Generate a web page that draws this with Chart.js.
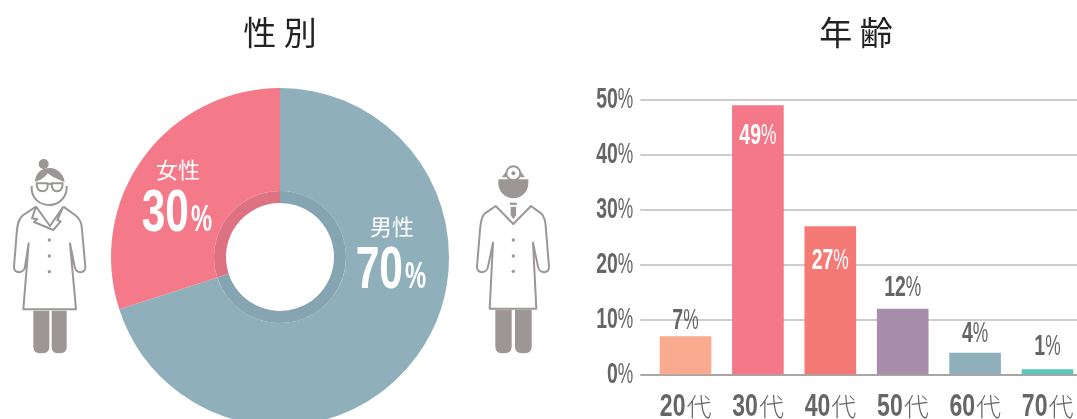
<!DOCTYPE html>
<html lang="ja">
<head>
<meta charset="utf-8">
<title>性別・年齢</title>
<script src="https://cdn.jsdelivr.net/npm/chart.js@4"></script>
<style>
html, body { margin: 0; padding: 0; width: 1077px; height: 419px; overflow: hidden; background: #fff; }
#genderChart { position: absolute; left: 0; top: 0; }
#ageChart { position: absolute; left: 580px; top: 0; }
svg { position: absolute; top: 150px; width: 100px; height: 210px; }
#woman { left: 0; }
#man { left: 465px; }
</style>
</head>
<body>
<canvas id="genderChart" width="560" height="426"></canvas>
<canvas id="ageChart" width="552" height="419"></canvas>

<svg id="woman" viewBox="0 0 300 630">
  <g fill="none" stroke="#9c9696" stroke-width="6" stroke-linejoin="round">
    <path d="M95 108C92 145 120 165 148 165C178 165 202 140 200 108"/>
    <path d="M110 100H143Q145 124 128 124Q110 124 110 100ZM155 100H188Q188 124 171 124Q155 124 155 100ZM143 103Q149 99 155 103"/>
    <path d="M108 170L70 195C55 205 52 225 50 250L42 350C40 372 72 372 75 350L86 280L70 478H228L210 280L224 350C228 372 258 372 256 350L246 240C245 215 238 205 225 195L190 170"/>
    <path d="M108 170L96 205L112 208L102 216L160 240L182 214L172 210L190 170M108 170L150 228L190 170"/>
  </g>
  <g fill="#9c9696">
    <circle cx="131" cy="42" r="15"/>
    <path d="M105 96C106 68 125 55 148 54C170 53 192 72 194 96C172 88 152 78 143 70C135 82 120 92 105 96Z"/>
    <circle cx="148" cy="270" r="5"/><circle cx="148" cy="318" r="5"/><circle cx="148" cy="365" r="5"/>
    <path d="M100 482H148V590Q148 610 124 610Q100 610 100 590ZM155 482H200V590Q200 610 177 610Q155 610 155 590Z"/>
  </g>
</svg>

<svg id="man" viewBox="0 0 300 630">
  <g fill="none" stroke="#9c9696" stroke-width="6" stroke-linejoin="round">
    <circle cx="145" cy="70" r="21"/>
    <path d="M92 168L60 190C50 198 47 215 45 240L36 350C34 372 66 372 69 350L84 278L74 476H214L204 278L219 350C222 372 254 372 252 350L243 240C242 215 238 198 228 190L198 168L145 222Z"/>
  </g>
  <g fill="#9c9696">
    <circle cx="145" cy="70" r="6"/>
    <path d="M100 88H190V100C190 125 170 145 145 145C120 145 100 125 100 100Z"/>
    <path d="M110 82L124 64L124 82ZM180 82L166 64L166 82Z"/>
    <rect x="135" y="158" width="20" height="7"/>
    <path d="M137 170H153V195L145 208L137 195Z"/>
    <circle cx="145" cy="270" r="5"/><circle cx="145" cy="318" r="5"/><circle cx="145" cy="364" r="5"/>
    <path d="M91 480H140V590Q140 610 115 610Q91 610 91 590ZM150 480H200V590Q200 610 175 610Q150 610 150 590Z"/>
  </g>
</svg>

<script>
const genderLabels = ['男性', '女性'];
const genderValues = [70, 30];
const genderColors = ['#8fb0bb', '#f47a89'];
const genderRingColors = ['#84a5b1', '#dd7382'];

const ageLabels = ['20', '30', '40', '50', '60', '70'];
const ageValues = [7, 49, 27, 12, 4, 1];
const ageColors = ['#f9aa8f', '#f47888', '#f57a75', '#a78eaa', '#8fb0ba', '#5cc8b8'];

const latinFont = '"Liberation Sans", sans-serif';
const cjkFont = '"Noto Sans CJK JP", sans-serif';
const textGray = '#666';

// 細い数字は使えるフォントがないので横方向に縮めて描く
function drawScaled(ctx, text, x, y, font, scaleX, color, align) {
    ctx.save();
    ctx.translate(x, y);
    ctx.scale(scaleX, 1);
    ctx.font = font;
    ctx.fillStyle = color;
    ctx.textAlign = align;
    ctx.textBaseline = 'alphabetic';
    ctx.fillText(text, 0, 0);
    ctx.restore();
}

// 数字は太く、%は細く描く。x は align に合わせて右端か中央
function drawPercent(ctx, value, x, y, align, color) {
    const digitFont = `bold 29px ${latinFont}`;
    const signFont = `29px ${latinFont}`;
    ctx.save();
    ctx.font = digitFont;
    const digitWidth = ctx.measureText(String(value)).width * 0.67;
    ctx.font = signFont;
    const signWidth = ctx.measureText('%').width * 0.6;
    ctx.restore();
    const left = align === 'right' ? x - digitWidth - signWidth : x - (digitWidth + signWidth) / 2;
    drawScaled(ctx, String(value), left, y, digitFont, 0.67, color, 'left');
    drawScaled(ctx, '%', left + digitWidth, y, signFont, 0.6, color, 'left');
}

const genderTextPlugin = {
    id: 'genderText',
    afterDatasetsDraw(chart) {
        const ctx = chart.ctx;
        const arc = chart.getDatasetMeta(0).data[0];
        const spots = [{ dx: 112, dy: -22 }, { dx: -102, dy: -79 }];
        genderLabels.forEach((label, i) => {
            const x = arc.x + spots[i].dx;
            const y = arc.y + spots[i].dy;
            drawScaled(ctx, label, x, y, `22px ${cjkFont}`, 1, '#fff', 'center');
            drawScaled(ctx, String(genderValues[i]), x + 11, y + 53, `bold 59px ${latinFont}`, 0.72, '#fff', 'right');
            drawScaled(ctx, '%', x + 13, y + 53, `bold 36px ${latinFont}`, 0.66, '#fff', 'left');
        });
    }
};

const ageTextPlugin = {
    id: 'ageText',
    afterDatasetsDraw(chart) {
        const ctx = chart.ctx;
        const yScale = chart.scales.y;
        // 値ラベルの棒の端からの距離(マイナスは棒の内側)
        const lifts = [8, -38, -42, 13, 11, 15];
        yScale.ticks.forEach(tick => {
            drawPercent(ctx, tick.value, chart.chartArea.left - 16, yScale.getPixelForValue(tick.value) + 8, 'right', textGray);
        });
        chart.getDatasetMeta(0).data.forEach((bar, i) => {
            drawPercent(ctx, ageValues[i], bar.x, bar.y - lifts[i], 'center', lifts[i] < 0 ? '#fff' : textGray);
            // 横軸のラベルは数字と「代」で大きさが違う
            const base = chart.chartArea.bottom + 41;
            drawScaled(ctx, ageLabels[i], bar.x, base, `bold 32px ${latinFont}`, 0.72, textGray, 'right');
            drawScaled(ctx, '代', bar.x + 1, base, `300 25px ${cjkFont}`, 1, textGray, 'left');
        });
    }
};

new Chart(document.getElementById('genderChart'), {
    type: 'doughnut',
    data: {
        labels: genderLabels,
        datasets: [
            { data: genderValues, backgroundColor: genderColors, borderWidth: 0, weight: 103 },
            { data: genderValues, backgroundColor: genderRingColors, borderWidth: 0, weight: 12 }
        ]
    },
    options: {
        responsive: false,
        animation: false,
        cutout: 54,
        layout: { padding: 0 },
        plugins: {
            legend: { display: false },
            tooltip: { enabled: false },
            title: {
                display: true,
                text: '性 別',
                color: '#222',
                font: { family: cjkFont, size: 33, weight: 'normal', lineHeight: 1.2 },
                padding: { top: 13, bottom: 35.4 }
            }
        }
    },
    plugins: [genderTextPlugin]
});

new Chart(document.getElementById('ageChart'), {
    type: 'bar',
    data: {
        labels: ageLabels,
        datasets: [{ data: ageValues, backgroundColor: ageColors, barThickness: 51, borderWidth: 0 }]
    },
    options: {
        responsive: false,
        animation: false,
        scales: {
            x: {
                grid: { display: false },
                border: { display: false },
                ticks: { display: false },
                afterFit(scale) { scale.height = 44; }
            },
            y: {
                min: 0,
                max: 50,
                afterFit(scale) { scale.width = 69.3; },
                border: { display: false },
                grid: {
                    color: ctx => ctx.tick.value === 0 ? '#aaa6a6' : '#cfcccc',
                    tickColor: ctx => ctx.tick.value === 0 ? '#aaa6a6' : '#cfcccc',
                    lineWidth: 2,
                    tickLength: 9
                },
                ticks: {
                    stepSize: 10,
                    color: 'rgba(0,0,0,0)'
                }
            },
            // タイトルを右に寄せるための空の軸
            spacer: {
                position: 'right',
                grid: { display: false },
                border: { display: false },
                ticks: { display: false },
                afterFit(scale) { scale.width = 48.3; }
            }
        },
        plugins: {
            legend: { display: false },
            tooltip: { enabled: false },
            title: {
                display: true,
                text: '年 齢',
                color: '#222',
                font: { family: cjkFont, size: 33, weight: 'normal', lineHeight: 1.2 },
                padding: { top: 13, bottom: 47.4 }
            }
        }
    },
    plugins: [ageTextPlugin]
});
</script>
</body>
</html>
